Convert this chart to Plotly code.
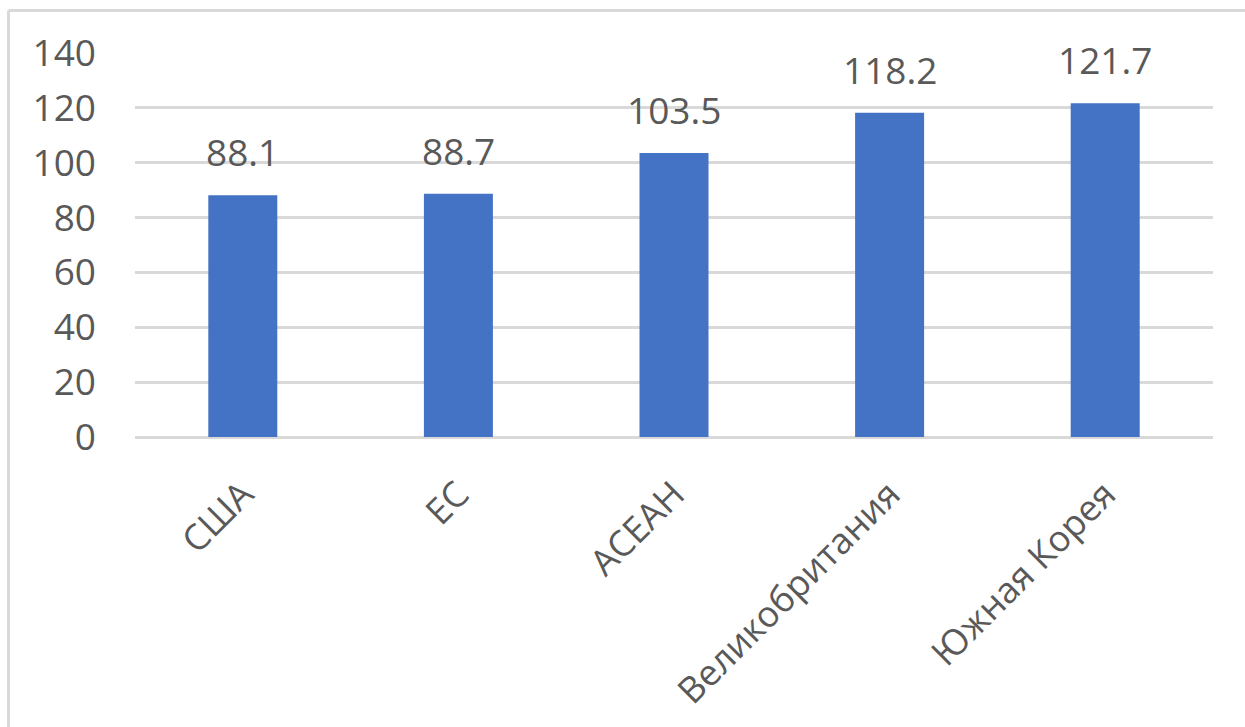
import plotly.graph_objects as go

# Categories and values
categories = ["США", "ЕС", "АСЕАН", "Великобритания", "Южная Корея"]
values = [88.1, 88.7, 103.5, 118.2, 121.7]
y_ticks = [0, 20, 40, 60, 80, 100, 120, 140]

W, H = 1245, 727
L, R, T, B = 135, 32, 53, 290
plot_w = W - L - R
plot_h = H - T - B

FONT = "Open Sans"
TEXT_COLOR = "#595959"
GRID = "#d9d9d9"
LABEL_SIZE = 37

fig = go.Figure(
    go.Bar(
        x=categories,
        y=values,
        marker=dict(color="#4472C4", line=dict(width=0)),
        width=0.32,
        hoverinfo="x+y",
    )
)

# value labels above each bar
for cat, val in zip(categories, values):
    fig.add_annotation(
        x=cat, y=val, xref="x", yref="y",
        text=f"{val:.1f}",
        showarrow=False,
        yanchor="bottom",
        yshift=16,
        font=dict(family=FONT, size=LABEL_SIZE, color=TEXT_COLOR),
    )


def px_x(p):
    return (p - L) / plot_w


def px_y(p):
    return (H - B - p) / plot_h


# chart frame (top and left edges)
frame = dict(color="#d9d9d9", width=3)
fig.add_shape(type="line", xref="paper", yref="paper",
              x0=px_x(8.5), x1=px_x(1260), y0=px_y(10.5), y1=px_y(10.5), line=frame)
fig.add_shape(type="line", xref="paper", yref="paper",
              x0=px_x(8.5), x1=px_x(8.5), y0=px_y(10.5), y1=px_y(740), line=frame)

fig.update_layout(
    width=W,
    height=H,
    margin=dict(l=L, r=R, t=T, b=B, pad=0),
    paper_bgcolor="white",
    plot_bgcolor="white",
    showlegend=False,
    font=dict(family=FONT, color=TEXT_COLOR),
    xaxis=dict(
        tickangle=-45,
        tickfont=dict(family=FONT, size=36, color=TEXT_COLOR),
        showgrid=False,
        showline=False,
        ticks="",
        ticklabelstandoff=28,
    ),
    yaxis=dict(
        range=[0, 140],
        tickvals=y_ticks,
        tickfont=dict(family=FONT, size=LABEL_SIZE, color=TEXT_COLOR),
        showgrid=True,
        gridcolor=GRID,
        gridwidth=3,
        zeroline=True,
        zerolinecolor=GRID,
        zerolinewidth=3,
        showline=False,
        ticks="",
        ticklabelstandoff=38,
    ),
)

fig.write_html("out.html")
